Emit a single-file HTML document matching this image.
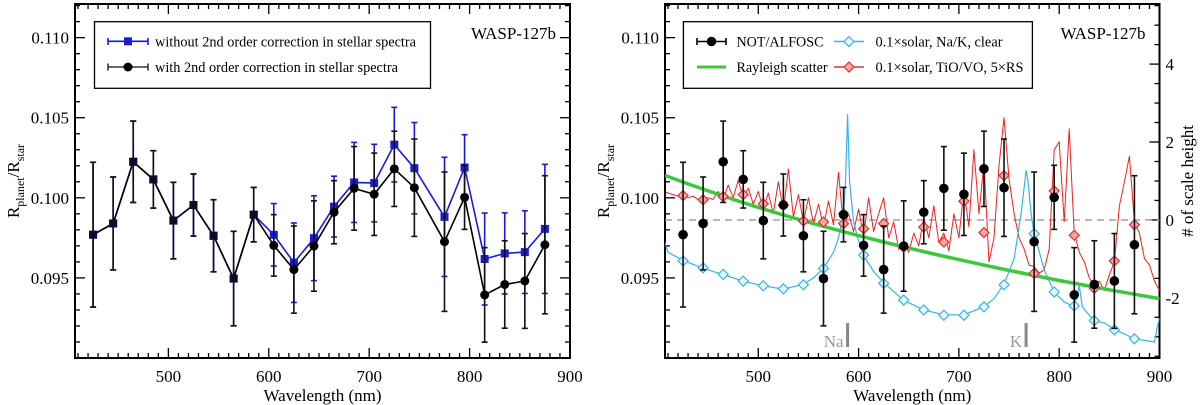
<!DOCTYPE html>
<html><head><meta charset="utf-8">
<style>
html,body{margin:0;padding:0;background:#fff;}
svg{display:block;font-family:"Liberation Serif","Times New Roman",serif;}
svg text{font-family:"Liberation Serif","Times New Roman",serif;}
</style></head>
<body>
<svg id="chart" width="1200" height="405" viewBox="0 0 1200 405" xmlns="http://www.w3.org/2000/svg" font-family="Liberation Serif, serif"></svg>
<script>
const wavelengths=[425,445,465,485,505,525,545,565,585,605,625,645,665,685,705,725,745,775,795,815,835,855,875];
const withCorr=[0.0977,0.0984,0.10225,0.10115,0.09858,0.09955,0.09763,0.09496,0.09895,0.09703,0.09552,0.09699,0.0991,0.10059,0.10022,0.10181,0.10063,0.09726,0.10003,0.09394,0.09459,0.09481,0.09707];
const withCorrErr=[0.00452,0.0029,0.00254,0.00179,0.00239,0.00194,0.00225,0.00295,0.0017,0.00192,0.00272,0.00282,0.00197,0.00261,0.00257,0.00235,0.00304,0.00435,0.002,0.00295,0.00273,0.00296,0.00431];
const withoutCorr=[0.0977,0.0984,0.10225,0.10115,0.09858,0.09955,0.09763,0.09496,0.09895,0.09769,0.09595,0.09748,0.09945,0.10096,0.10092,0.10332,0.10185,0.09881,0.10189,0.09618,0.09653,0.09661,0.09806];
const withoutCorrErr=[0.00452,0.0029,0.00254,0.00179,0.00239,0.00194,0.00225,0.00295,0.0017,0.00195,0.00248,0.00265,0.0019,0.0025,0.00242,0.00233,0.00285,0.00372,0.00205,0.00287,0.00253,0.00258,0.00403];
const blueDiamonds=[0.09606,0.09563,0.09522,0.0948,0.09451,0.09432,0.09457,0.09559,0.09901,0.09642,0.09466,0.09362,0.0930,0.09267,0.09267,0.09319,0.09457,0.09776,0.09412,0.09325,0.09234,0.09176,0.0912];
const redDiamonds=[0.10014,0.09988,0.10008,0.1002,0.09963,0.09954,0.09855,0.09849,0.09839,0.09807,0.09839,0.09693,0.09817,0.09724,0.09979,0.09783,0.10139,0.09528,0.10043,0.09766,0.09435,0.09606,0.09832];
const blueLineWl=[407,410,425,445,465,485,505,525,545,555,565,575,580,585,587,589,591,595,600,605,615,625,645,665,685,705,725,735,745,755,762,767,769,772,775,785,795,805,815,820,823,835,845,855,865,875,885,895,898,900];
const blueLineVal=[0.0972,0.0966,0.0961,0.0956,0.0952,0.0948,0.0945,0.0943,0.0946,0.0950,0.0956,0.0966,0.0975,0.0990,0.1010,0.1052,0.1010,0.0985,0.0973,0.0964,0.0954,0.0947,0.0936,0.0930,0.0927,0.0927,0.0932,0.0937,0.0946,0.0962,0.0990,0.1017,0.1010,0.0990,0.0978,0.0955,0.0941,0.0935,0.0932,0.0945,0.0932,0.0923,0.0922,0.0918,0.0915,0.0912,0.0911,0.0910,0.0920,0.0925];
const redLineWl=[407,410,415,420,425,430,435,440,445,450,455,460,465,470,475,480,485,490,495,500,505,510,515,520,525,530,535,540,545,550,555,560,565,570,575,580,585,590,595,600,605,610,615,620,625,630,635,640,645,650,655,660,665,670,675,680,685,690,695,700,705,710,715,720,725,730,735,740,745,750,755,760,765,770,775,780,785,790,795,800,805,810,815,820,825,830,835,840,845,850,855,860,865,870,875,880,885,890,895,900];
const redLineVal=[0.1004,0.1003,0.1002,0.1001,0.1001,0.1000,0.1001,0.0999,0.0999,0.1000,0.0999,0.1004,0.0999,0.1008,0.1000,0.1011,0.1000,0.1006,0.0996,0.1004,0.0993,0.1003,0.0990,0.1010,0.0992,0.1018,0.0988,0.1002,0.0985,0.1000,0.0984,0.0996,0.0982,0.0998,0.0983,0.1016,0.0982,0.0990,0.0979,0.0993,0.0976,0.1000,0.0979,0.0990,0.1000,0.0975,0.0985,0.0968,0.0972,0.0966,0.0978,0.0970,0.0988,0.0975,0.0995,0.0972,0.0978,0.0967,0.0990,0.0975,0.1005,0.0982,0.1030,0.0990,0.1022,0.0960,0.0975,0.1020,0.1050,0.1012,0.0990,0.0975,0.0968,0.0958,0.0957,0.0953,0.0955,0.0968,0.1030,0.1035,0.0985,0.1043,0.0978,0.0966,0.0960,0.0950,0.0945,0.0948,0.0942,0.0952,0.0960,0.0995,0.1010,0.1026,0.0985,0.0978,0.0962,0.0958,0.0948,0.0942];
const rayWl=[407,425,450,475,500,525,550,575,600,625,650,675,700,725,750,775,800,825,850,875,900];
const rayVal=[0.1014,0.10098,0.10043,0.09990,0.09940,0.09893,0.09848,0.09805,0.09764,0.09724,0.09686,0.09649,0.09614,0.09580,0.09547,0.09515,0.09484,0.09455,0.09426,0.09398,0.0937];
const xTicks=[500,600,700,800,900];
const yTicks=[0.095,0.100,0.105,0.110];
const yTickLabels=["0.095","0.100","0.105","0.110"];
const scaleTicks=[-2,0,2,4];

const NS="http://www.w3.org/2000/svg";
const svg=document.getElementById('chart');
function mk(tag,attrs,parent){const e=document.createElementNS(NS,tag);for(const k in attrs)e.setAttribute(k,attrs[k]);(parent||svg).appendChild(e);return e;}
const XMIN=407,XMAX=900,YMIN=0.0900,YMAX=0.1121,TOP=4,BOT=358;
function makePanel(L,R){
  return {x:w=>L+(w-XMIN)/(XMAX-XMIN)*(R-L), y:v=>BOT-(v-YMIN)/(YMAX-YMIN)*(BOT-TOP), L:L, R:R};
}
function axes(p,g,rightTicks){
  mk('rect',{x:p.L,y:TOP,width:p.R-p.L,height:BOT-TOP,fill:'none',stroke:'#000','stroke-width':2},g);
  for(let w=410;w<=900;w+=10){
    const major=w%100===0, len=major?10:5, xx=p.x(w);
    mk('line',{x1:xx,x2:xx,y1:BOT,y2:BOT-len,stroke:'#000','stroke-width':1.3},g);
    mk('line',{x1:xx,x2:xx,y1:TOP,y2:TOP+len,stroke:'#000','stroke-width':1.3},g);
  }
  xTicks.forEach(w=>{const t=mk('text',{x:p.x(w),y:382,'font-size':17,'text-anchor':'middle'},g);t.textContent=w;
    });
  for(let i=91;i<=112;i++){
    const v=i/1000, major=i%5===0, len=major?10:5, yy=p.y(v);
    mk('line',{x1:p.L,x2:p.L+len,y1:yy,y2:yy,stroke:'#000','stroke-width':1.3},g);
    if(!rightTicks) mk('line',{x1:p.R,x2:p.R-len,y1:yy,y2:yy,stroke:'#000','stroke-width':1.3},g);
  }
  yTicks.forEach((v,i)=>{const t=mk('text',{x:p.L-6,y:p.y(v)+6,'font-size':17,'text-anchor':'end'},g);t.textContent=yTickLabels[i];
    });
  const xl=mk('text',{x:(p.L+p.R)/2,y:401,'font-size':17,'text-anchor':'middle'},g);xl.textContent='Wavelength (nm)';
  
  const yl=mk('text',{x:0,y:0,'font-size':17,'text-anchor':'middle',transform:`translate(${p.L-56},${(TOP+BOT)/2}) rotate(-90)`},g);
  yl.innerHTML='R<tspan font-size="12" dy="5">planet</tspan><tspan dy="-5">/R</tspan><tspan font-size="12" dy="5">star</tspan>';
  
  const tt=mk('text',{x:p.R-14,y:39,'font-size':17,'text-anchor':'end'},g);tt.textContent='WASP-127b';
  
}
function errbar(p,g,w,v,e,col){
  const xx=p.x(w);
  mk('line',{x1:xx,x2:xx,y1:p.y(v+e),y2:p.y(v-e),stroke:col,'stroke-width':1.6},g);
  mk('line',{x1:xx-3,x2:xx+3,y1:p.y(v+e),y2:p.y(v+e),stroke:col,'stroke-width':1.6},g);
  mk('line',{x1:xx-3,x2:xx+3,y1:p.y(v-e),y2:p.y(v-e),stroke:col,'stroke-width':1.6},g);
}
function poly(p,g,wl,vals,col,wd){
  return mk('polyline',{points:wl.map((w,i)=>p.x(w).toFixed(1)+','+p.y(vals[i]).toFixed(1)).join(' '),fill:'none',stroke:col,'stroke-width':wd,'stroke-linejoin':'round'},g);
}
function diamond(g,x,y,fill,stroke){return mk('polygon',{points:`${x},${y-5} ${x+5},${y} ${x},${y+5} ${x-5},${y}`,fill:fill,stroke:stroke,'stroke-width':1.2},g);}

// LEFT PANEL
const pl=makePanel(75,570);
const gl=mk('g',{});

axes(pl,gl,false);
const blueC='#1a1adc', blk='#000';
const bl=poly(pl,gl,wavelengths,withoutCorr,blueC,1.6);

wavelengths.forEach((w,i)=>errbar(pl,gl,w,withoutCorr[i],withoutCorrErr[i],blueC));
wavelengths.forEach((w,i)=>{const r=mk('rect',{x:pl.x(w)-4,y:pl.y(withoutCorr[i])-4,width:8,height:8,fill:blueC},gl);
  });
const kl=poly(pl,gl,wavelengths,withCorr,blk,1.6);

wavelengths.forEach((w,i)=>errbar(pl,gl,w,withCorr[i],withCorrErr[i],'#111'));
wavelengths.forEach((w,i)=>{
  if(withCorr[i]===withoutCorr[i]){const r=mk('rect',{x:pl.x(w)-4,y:pl.y(withCorr[i])-4,width:8,height:8,fill:'#0c0c2a'},gl);
    }
  else{const c=mk('circle',{cx:pl.x(w),cy:pl.y(withCorr[i]),r:4.5,fill:blk},gl);
    }
});
// left legend
const lg=mk('g',{},gl);

mk('rect',{x:94.5,y:21.7,width:336,height:66.6,fill:'#fff',stroke:'#000','stroke-width':1.3},lg);
mk('line',{x1:108,x2:148,y1:41.3,y2:41.3,stroke:blueC,'stroke-width':1.6},lg);
mk('line',{x1:108,x2:108,y1:38,y2:45,stroke:blueC,'stroke-width':1.6},lg);mk('line',{x1:148,x2:148,y1:38,y2:45,stroke:blueC,'stroke-width':1.6},lg);
mk('rect',{x:124,y:37.3,width:8,height:8,fill:blueC},lg);
mk('line',{x1:108,x2:148,y1:67,y2:67,stroke:'#333','stroke-width':1.6},lg);
mk('line',{x1:108,x2:108,y1:63.5,y2:70.5,stroke:'#333','stroke-width':1.6},lg);mk('line',{x1:148,x2:148,y1:63.5,y2:70.5,stroke:'#333','stroke-width':1.6},lg);
mk('circle',{cx:128,cy:67,r:4.5,fill:'#000'},lg);
let t=mk('text',{x:155,y:46.5,'font-size':14.5,textLength:261,lengthAdjust:'spacingAndGlyphs'},lg);t.textContent='without 2nd order correction in stellar spectra';
t=mk('text',{x:155,y:72,'font-size':14.5,textLength:243,lengthAdjust:'spacingAndGlyphs'},lg);t.textContent='with 2nd order correction in stellar spectra';

// RIGHT PANEL
const pr=makePanel(665,1159.5);
const gr=mk('g',{});

axes(pr,gr,true);
// right axis (scale height)
const zeroV=0.09862, unitV=0.002432;
for(let s=-3.5;s<=5.5;s+=0.5){const yy=pr.y(zeroV+s*unitV);if(yy<TOP+1||yy>BOT-1)continue;
  const len=Number.isInteger(s)&&s%2===0?10:5;mk('line',{x1:pr.R,x2:pr.R-len,y1:yy,y2:yy,stroke:'#000','stroke-width':1.3},gr);}
scaleTicks.forEach(s=>{const tx=mk('text',{x:pr.R+6,y:pr.y(zeroV+s*unitV)+6,'font-size':17},gr);tx.textContent=s;
  });
const rl=mk('text',{x:0,y:0,'font-size':17,'text-anchor':'middle',transform:`translate(1193,${pr.y(zeroV+1*unitV)}) rotate(-90)`},gr);rl.textContent='# of scale height';

const cl=mk('g',{'clip-path':'url(#clipR)'},gr);
const defs=mk('defs',{});const cp=mk('clipPath',{id:'clipR'},defs);mk('rect',{x:pr.L,y:TOP,width:pr.R-pr.L,height:BOT-TOP},cp);
const dash=mk('line',{x1:pr.L,x2:pr.R,y1:pr.y(zeroV),y2:pr.y(zeroV),stroke:'#999','stroke-width':1.4,'stroke-dasharray':'7,5'},cl);

const redL=poly(pr,cl,redLineWl,redLineVal,'#f02020',1);

const bL=poly(pr,cl,blueLineWl,blueLineVal,'#35b4e8',1.2);

const gL=poly(pr,cl,rayWl,rayVal,'#3cc83c',3.5);

wavelengths.forEach((w,i)=>{const d=diamond(cl,pr.x(w),pr.y(blueDiamonds[i]),'#e8f6fc','#35b4e8');
  });
wavelengths.forEach((w,i)=>{const d=diamond(cl,pr.x(w),pr.y(redDiamonds[i]),'#f4a8a0','#e03030');
  });
wavelengths.forEach((w,i)=>{errbar(pr,gr,w,withCorr[i],withCorrErr[i],'#111');
  const c=mk('circle',{cx:pr.x(w),cy:pr.y(withCorr[i]),r:4.8,fill:'#000'},gr);
  });
// Na / K markers
[[589,'Na'],[767,'K']].forEach(([w,lab])=>{
  const xx=pr.x(w);mk('rect',{x:xx-1.5,y:323,width:3,height:24,fill:'#888'},gr);
  const tx=mk('text',{x:xx-4,y:347,'font-size':17,'text-anchor':'end',fill:'#999'},gr);tx.textContent=lab;
  });
// right legend
const rg=mk('g',{},gr);

mk('rect',{x:683.4,y:21.7,width:349,height:66.6,fill:'#fff',stroke:'#000','stroke-width':1.3},rg);
mk('line',{x1:697,x2:726,y1:41.5,y2:41.5,stroke:'#000','stroke-width':1.6},rg);
mk('line',{x1:697,x2:697,y1:38,y2:45,stroke:'#000','stroke-width':1.6},rg);mk('line',{x1:726,x2:726,y1:38,y2:45,stroke:'#000','stroke-width':1.6},rg);
mk('circle',{cx:711.5,cy:41.5,r:4.8,fill:'#000'},rg);
mk('line',{x1:697,x2:726,y1:67,y2:67,stroke:'#3cc83c','stroke-width':3},rg);
mk('line',{x1:834,x2:864,y1:41.5,y2:41.5,stroke:'#35b4e8','stroke-width':1.6},rg);
diamond(rg,849,41.5,'#e8f6fc','#35b4e8');
mk('line',{x1:834,x2:864,y1:67,y2:67,stroke:'#e03030','stroke-width':1.6},rg);
diamond(rg,849,67,'#f4a8a0','#e03030');
t=mk('text',{x:736.5,y:46.5,'font-size':14.5,textLength:87,lengthAdjust:'spacingAndGlyphs'},rg);t.textContent='NOT/ALFOSC';
t=mk('text',{x:736.5,y:72,'font-size':14.5,textLength:91,lengthAdjust:'spacingAndGlyphs'},rg);t.textContent='Rayleigh scatter';
t=mk('text',{x:875.5,y:46.5,'font-size':14.5,textLength:127,lengthAdjust:'spacingAndGlyphs'},rg);t.textContent='0.1×solar, Na/K, clear';
t=mk('text',{x:875.5,y:72,'font-size':14.5,textLength:148,lengthAdjust:'spacingAndGlyphs'},rg);t.textContent='0.1×solar, TiO/VO, 5×RS';
</script>
</body></html>
